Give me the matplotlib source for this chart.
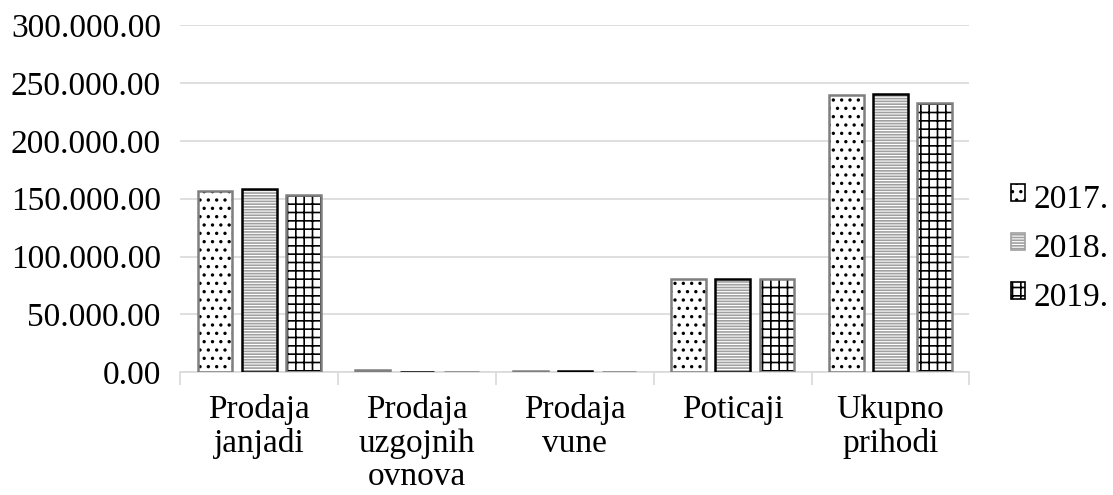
import numpy as np
import matplotlib
matplotlib.use("Agg")
import matplotlib.pyplot as plt
from matplotlib.legend_handler import HandlerPatch

plt.rcParams['font.family'] = ['Liberation Serif', 'DejaVu Serif']
plt.rcParams['hatch.linewidth'] = 1.2

categories = ["Prodaja\njanjadi", "Prodaja\nuzgojnih\novnova", "Prodaja\nvune", "Poticaji", "Ukupno\nprihodi"]
years = ["2017.", "2018.", "2019."]
v2017 = [156500, 2000, 700, 81000, 240000]
v2018 = [158500, 0, 700, 80500, 240800]
v2019 = [153000, 0, 0, 80500, 233000]
ticks = [0, 50000, 100000, 150000, 200000, 250000, 300000]

fig = plt.figure(figsize=(11.13, 4.95), dpi=100)
ax = fig.add_axes([0.162, 0.248, 0.709, 0.701])

x = np.arange(len(categories))
w = 0.22
off = 0.28
styles = [
    dict(hatch='..', hc='black', ec='#7f7f7f'),
    dict(hatch='------', hc='#a0a0a0', ec='black'),
    dict(hatch='++', hc='black', ec='#7f7f7f'),
]
handles = []
for i, (vals, st) in enumerate(zip([v2017, v2018, v2019], styles)):
    pos = x + (i - 1) * off
    ax.bar(pos, vals, w, color='white', edgecolor=st['hc'], hatch=st['hatch'], linewidth=0, zorder=2)
    ax.bar(pos, vals, w, fill=False, edgecolor=st['ec'], linewidth=1.8, zorder=3)
    h = plt.Rectangle((0, 0), 1, 1, facecolor='white', edgecolor=st['hc'], hatch=st['hatch'], linewidth=1.2)
    handles.append(h)

ax.set_xlim(-0.5, len(categories) - 0.5)
ax.set_ylim(0, 300000)
ax.set_yticks(ticks)
ax.set_yticklabels([f"{t:,.2f}".replace(",", ".") for t in ticks], fontsize=24)
ax.yaxis.grid(True, color='#d9d9d9', linewidth=1.2, zorder=0)
ax.set_axisbelow(True)
ax.tick_params(axis='y', length=0, pad=14)

ax.set_xticks(x)
ax.set_xticklabels(categories, fontsize=24, linespacing=1.12)
ax.tick_params(axis='x', length=0, pad=16)
ax.set_xticks(np.arange(-0.5, len(categories)), minor=True)
ax.tick_params(axis='x', which='minor', length=9, color='#d9d9d9', width=1.2)

for s in ['top', 'right', 'left']:
    ax.spines[s].set_visible(False)
ax.spines['bottom'].set_color('#d9d9d9')
ax.spines['bottom'].set_linewidth(1.2)


def square(legend, orig_handle, xdescent, ydescent, width, height, fontsize):
    # raise the small box so it sits in the middle of the digits
    return plt.Rectangle((-xdescent, -ydescent + 0.12 * fontsize), width, height)


fig.legend(handles, years, loc='center left', bbox_to_anchor=(0.908, 0.497), frameon=False,
           fontsize=24, handlelength=0.42, handleheight=0.42, handletextpad=0.27,
           labelspacing=0.55, borderpad=0, borderaxespad=0,
           handler_map={plt.Rectangle: HandlerPatch(patch_func=square)})

fig.savefig("out.png", dpi=100)
